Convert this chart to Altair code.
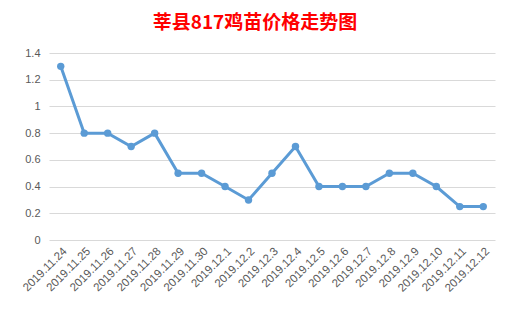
import altair as alt
import pandas as pd

dates = ["2019.11.24", "2019.11.25", "2019.11.26", "2019.11.27", "2019.11.28",
         "2019.11.29", "2019.11.30", "2019.12.1", "2019.12.2", "2019.12.3",
         "2019.12.4", "2019.12.5", "2019.12.6", "2019.12.7", "2019.12.8",
         "2019.12.9", "2019.12.10", "2019.12.11", "2019.12.12"]
prices = [1.3, 0.8, 0.8, 0.7, 0.8, 0.5, 0.5, 0.4, 0.3, 0.5,
          0.7, 0.4, 0.4, 0.4, 0.5, 0.5, 0.4, 0.25, 0.25]
y_ticks = [0, 0.2, 0.4, 0.6, 0.8, 1, 1.2, 1.4]

df = pd.DataFrame({"date": dates, "price": prices})

x = alt.X("date:N", sort=dates, title=None,
          scale=alt.Scale(paddingInner=0, paddingOuter=0),
          axis=alt.Axis(labelAngle=-45, labelAlign="right", labelBaseline="top",
                        labelPadding=5, ticks=False, domain=False, grid=False,
                        labelColor="#595959", labelFont="Liberation Sans",
                        labelFontSize=11.5))
y = alt.Y("price:Q", title=None,
          scale=alt.Scale(domain=[0, 1.4], nice=False),
          axis=alt.Axis(values=y_ticks, ticks=False, domain=False, format="~g",
                        gridColor="#d9d9d9", gridWidth=1,
                        labelColor="#595959", labelFont="Liberation Sans",
                        labelFontSize=11, labelPadding=9))

line = alt.Chart(df).mark_line(color="#5b9bd5", strokeWidth=3).encode(x=x, y=y)
pts = alt.Chart(df).mark_circle(color="#5b9bd5", size=55, opacity=1).encode(x=x, y=y)

chart = (line + pts).properties(
    width=446, height=187,
    title=alt.TitleParams("莘县817鸡苗价格走势图", font="Noto Sans CJK SC",
                          fontSize=19, fontWeight="bold", color="#ff0000",
                          anchor="middle", offset=14, dx=-17),
    autosize=alt.AutoSizeParams(type="none"),
    padding={"left": 49, "top": 53, "right": 18, "bottom": 72},
    background="white",
).configure_view(stroke=None)

chart.save("out.html", embed_options={"renderer": "svg", "actions": False})
